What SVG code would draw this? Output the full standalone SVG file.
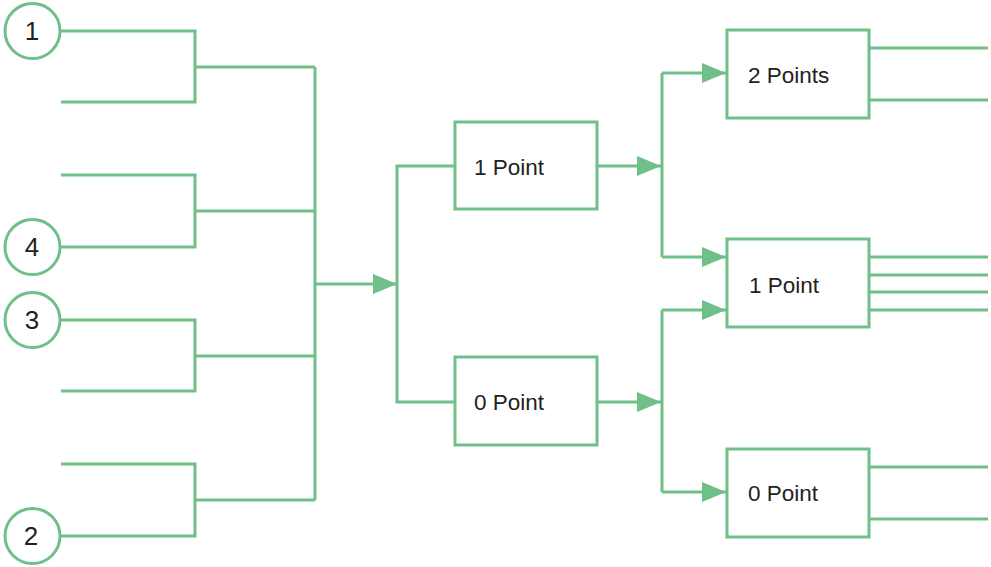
<svg xmlns="http://www.w3.org/2000/svg" width="991" height="567" viewBox="0 0 991 567">
<style>
.ln{fill:none;stroke:#6ebf88;stroke-width:3}
.bx{fill:#fff;stroke:#6ebf88;stroke-width:3}
.t{font-family:"Liberation Sans",Arial,sans-serif;font-size:22.5px;fill:#222}
.n{font-family:"Liberation Sans",Arial,sans-serif;font-size:26px;fill:#222;text-anchor:middle}
</style>
<defs>
<marker id="ar" markerWidth="24" markerHeight="20" refX="24" refY="10" orient="auto" markerUnits="userSpaceOnUse">
<path d="M0,0 L24,10 L0,20 Z" fill="#6ebf88"/>
</marker>
</defs>
<rect width="991" height="567" fill="#fff"/>
<g id="connectors">
<polyline class="ln" points="61,31 195,31 195,102 61,102"/>
<polyline class="ln" points="61,175 195,175 195,247 61,247"/>
<polyline class="ln" points="61,320 195,320 195,391 61,391"/>
<polyline class="ln" points="61,464 195,464 195,536 61,536"/>
<line class="ln" x1="195" y1="67" x2="315" y2="67"/>
<line class="ln" x1="195" y1="211" x2="315" y2="211"/>
<line class="ln" x1="195" y1="356" x2="315" y2="356"/>
<line class="ln" x1="195" y1="500" x2="315" y2="500"/>
<line class="ln" x1="315" y1="67" x2="315" y2="500"/>
<line class="ln" x1="315" y1="284" x2="397" y2="284" marker-end="url(#ar)"/>
<polyline class="ln" points="455,166 397,166 397,402 455,402"/>
<line class="ln" x1="597" y1="166" x2="661" y2="166" marker-end="url(#ar)"/>
<line class="ln" x1="597" y1="402" x2="661" y2="402" marker-end="url(#ar)"/>
<line class="ln" x1="662" y1="73" x2="662" y2="257"/>
<line class="ln" x1="662" y1="73" x2="726" y2="73" marker-end="url(#ar)"/>
<line class="ln" x1="662" y1="257" x2="726" y2="257" marker-end="url(#ar)"/>
<line class="ln" x1="662" y1="310" x2="662" y2="492"/>
<line class="ln" x1="662" y1="310" x2="726" y2="310" marker-end="url(#ar)"/>
<line class="ln" x1="662" y1="492" x2="726" y2="492" marker-end="url(#ar)"/>
<line class="ln" x1="869" y1="48" x2="988" y2="48"/>
<line class="ln" x1="869" y1="100" x2="988" y2="100"/>
<line class="ln" x1="869" y1="257" x2="988" y2="257"/>
<line class="ln" x1="869" y1="275" x2="988" y2="275"/>
<line class="ln" x1="869" y1="292" x2="988" y2="292"/>
<line class="ln" x1="869" y1="310" x2="988" y2="310"/>
<line class="ln" x1="869" y1="467" x2="988" y2="467"/>
<line class="ln" x1="869" y1="519" x2="988" y2="519"/>
</g>
<g id="c1"><circle class="bx" cx="32.5" cy="31" r="27.5"/><text class="n" x="32" y="40">1</text></g>
<g id="c4"><circle class="bx" cx="32.5" cy="247" r="27.5"/><text class="n" x="32" y="256">4</text></g>
<g id="c3"><circle class="bx" cx="32.5" cy="320" r="27.5"/><text class="n" x="32" y="329">3</text></g>
<g id="c2"><circle class="bx" cx="32.5" cy="536" r="27.5"/><text class="n" x="31" y="545">2</text></g>
<g id="b1p"><rect class="bx" x="455" y="122" width="142" height="87"/><text class="t" x="474" y="175">1 Point</text></g>
<g id="b0p"><rect class="bx" x="455" y="357" width="142" height="88"/><text class="t" x="474" y="410">0 Point</text></g>
<g id="r2p"><rect class="bx" x="727" y="30" width="142" height="88"/><text class="t" x="748" y="83">2 Points</text></g>
<g id="r1p"><rect class="bx" x="727" y="239" width="142" height="88"/><text class="t" x="749" y="293">1 Point</text></g>
<g id="r0p"><rect class="bx" x="727" y="449" width="142" height="88"/><text class="t" x="748" y="501">0 Point</text></g>
</svg>
